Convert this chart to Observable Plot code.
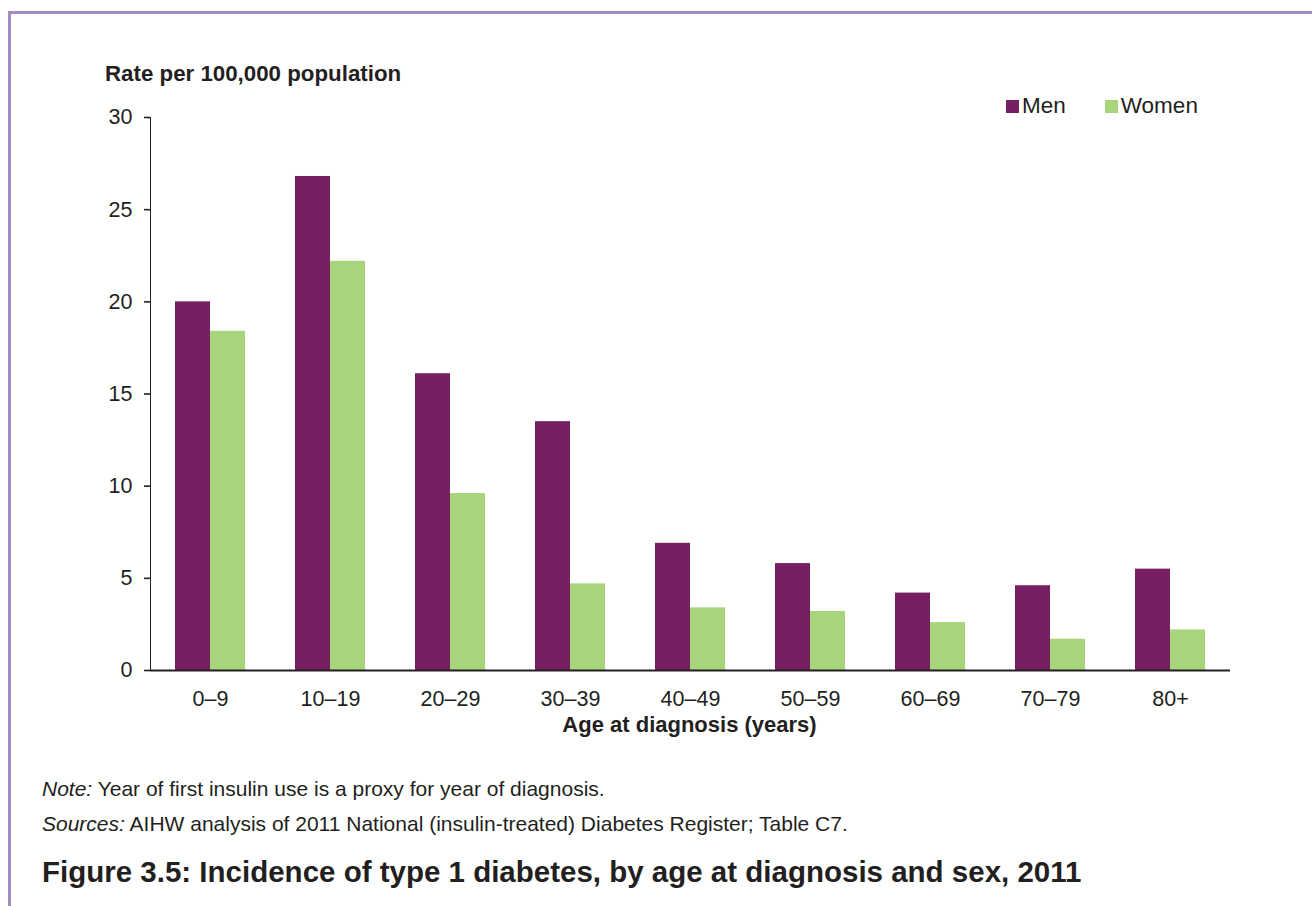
<!DOCTYPE html>
<html>
<head>
<meta charset="utf-8">
<script src="https://cdn.jsdelivr.net/npm/d3@7"></script>
<script src="https://cdn.jsdelivr.net/npm/@observablehq/plot@0.6"></script>
<style>
  html, body { margin: 0; padding: 0; background: #fff; }
  #page { position: relative; width: 1312px; height: 906px; overflow: hidden; background: #fff; font-family: "Liberation Sans", Arial, sans-serif; color: #231f20; }
  #frameTop { position: absolute; left: 8px; top: 11px; width: 1304px; height: 3px; background: #a48bc6; }
  #frameLeft { position: absolute; left: 8px; top: 11px; width: 3px; height: 895px; background: #a48bc6; }
  #chart { position: absolute; left: 0; top: 0; }
  #ytitle { position: absolute; left: 105px; top: 61px; font-weight: bold; font-size: 22.3px; white-space: nowrap; }
  #xtitle { position: absolute; left: 0; width: 1379px; top: 712px; text-align: center; font-weight: bold; font-size: 22px; white-space: nowrap; }
  #legend { position: absolute; left: 1006px; top: 93px; display: flex; font-size: 22.5px; white-space: nowrap; }
  .item { display: flex; align-items: center; margin-right: 39px; }
  .sw { width: 13px; height: 13px; margin-right: 3px; }
  #note, #source { position: absolute; left: 42px; font-family: "Liberation Sans", sans-serif; font-size: 21px; white-space: nowrap; }
  #note { top: 777px; }
  #source { top: 812px; }
  #figtitle { position: absolute; left: 42px; top: 855px; font-family: "Liberation Sans", sans-serif; font-weight: bold; font-size: 29.5px; white-space: nowrap; }
</style>
</head>
<body>
<div id="page">
  <div id="frameTop"></div>
  <div id="frameLeft"></div>
  <div id="chart"></div>
  <div id="ytitle">Rate per 100,000 population</div>
  <div id="legend"></div>
  <div id="xtitle">Age at diagnosis (years)</div>
  <div id="note"><i>Note:</i> Year of first insulin use is a proxy for year of diagnosis.</div>
  <div id="source"><i>Sources:</i> AIHW analysis of 2011 National (insulin-treated) Diabetes Register; Table C7.</div>
  <div id="figtitle">Figure 3.5: Incidence of type 1 diabetes, by age at diagnosis and sex, 2011</div>
</div>
<script>
const ages = ["0–9", "10–19", "20–29", "30–39", "40–49", "50–59", "60–69", "70–79", "80+"];
const series = ["Men", "Women"];
const men = [20.0, 26.8, 16.1, 13.5, 6.9, 5.8, 4.2, 4.6, 5.5];
const women = [18.4, 22.2, 9.6, 4.7, 3.4, 3.2, 2.6, 1.7, 2.2];
const colors = ["#771f63", "#a8d47c"];
const yTicks = [0, 5, 10, 15, 20, 25, 30];

const rows = [];
ages.forEach((a, i) => {
  rows.push({age: a, sex: "Men", value: men[i]});
  rows.push({age: a, sex: "Women", value: women[i]});
});

const chart = Plot.plot({
  width: 1312,
  height: 760,
  marginLeft: 147,
  marginRight: 80,
  marginTop: 117,
  marginBottom: 90,
  style: {fontFamily: "Liberation Sans, Arial, sans-serif", fontSize: "21.5px", color: "#231f20", background: "transparent"},
  fx: {domain: ages, padding: 0, axis: "bottom", tickSize: 0, tickPadding: 20, label: null},
  x: {domain: series, paddingInner: 0, paddingOuter: 0.695, axis: null},
  y: {domain: [0, 30], ticks: yTicks, tickSize: 6, tickPadding: 12, line: true, label: null},
  color: {domain: series, range: colors},
  marks: [
    Plot.barY(rows, {fx: "age", x: "sex", y: "value", fill: "sex"}),
    Plot.ruleY([0], {stroke: "#231f20", strokeWidth: 2})
  ]
});
chart.querySelectorAll('[aria-label="y-axis line"] *, [aria-label="y-axis tick"] *, [aria-label="y-axis"] line, [aria-label="y-axis"] path').forEach(el => el.setAttribute("stroke-width", 1.6));
document.getElementById("chart").appendChild(chart);

const legend = document.getElementById("legend");
series.forEach((s, i) => {
  const it = document.createElement("div");
  it.className = "item";
  const sw = document.createElement("div");
  sw.className = "sw";
  sw.style.background = colors[i];
  const t = document.createElement("span");
  t.textContent = s;
  it.appendChild(sw); it.appendChild(t);
  legend.appendChild(it);
});
</script>
</body>
</html>
